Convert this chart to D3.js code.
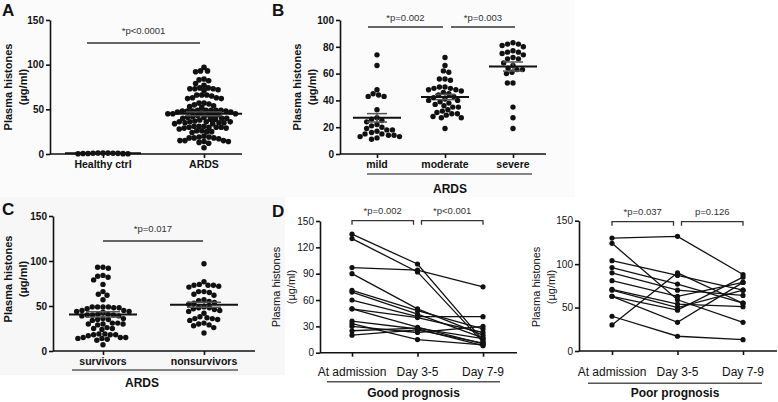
<!DOCTYPE html>
<html>
<head>
<meta charset="utf-8">
<script src="https://cdn.jsdelivr.net/npm/d3@7"></script>
<style>
  body { margin: 0; background: #fff; }
  svg { display: block; font-family: "Liberation Sans", Arial, Helvetica, sans-serif; }
</style>
</head>
<body>
<div id="chart"></div>
<script>
// ---- data (plasma histones, µg/ml) ----
const healthyCtrl = [0.4, 0.9, 1.2, 0.6, 0.3, 1.0, 0.7, 0.5, 1.1, 0.8, 0.2];

const survivors = [93, 92, 93, 83, 84, 82, 79, 74, 66, 63, 62, 57,
  49, 49, 48, 49, 48, 49, 47, 45, 44, 43, 44, 45,
  41, 40, 39, 40, 41, 40, 39, 36, 35, 36, 34, 35,
  31, 30, 30, 31, 29, 30, 25, 26, 24, 25,
  19, 18, 17, 18, 19, 18, 15, 14, 15, 14, 15, 13, 12, 7];
const nonsurvivors = [97, 77, 73, 74, 73, 72, 73, 71, 66, 65, 66, 63, 62, 57, 56,
  54, 55, 53, 52, 48, 47, 48, 49, 45, 44, 46, 42, 38, 37,
  36, 35, 36, 34, 31, 30, 29, 28, 26, 20];
// panel A: all ARDS patients
const ards = survivors.concat(nonsurvivors);

const mild = [74, 66, 48, 45, 44, 43, 43, 33, 27, 26, 25, 24, 22, 21,
  20, 19, 18, 18, 17, 16, 15, 15, 14, 14, 13, 13, 12, 11];
const moderate = [72, 66, 62, 61, 56, 56, 55, 50, 50, 49, 49, 48, 48, 47, 46, 45, 44,
  43, 42, 41, 40, 40, 39, 38, 37, 36, 35, 35, 33, 32, 31, 30, 30, 29, 28, 27, 27, 19];
const severe = [83, 82, 82, 81, 80, 77, 76, 76, 75, 74, 72, 71, 71, 68, 66,
  64, 63, 63, 61, 60, 53, 53, 35, 27, 19];

const timepoints = ["At admission", "Day 3-5", "Day 7-9"];
// one row per patient: [admission, day 3-5, day 7-9]
const goodPrognosis = [
  [135, 101, 14], [130, 92, 12], [97, 94, 75], [90, 50, 20], [71, 48, 27],
  [69, 44, 17], [60, 41, 41], [50, 40, 23], [50, 29, 10], [36, 27, 8],
  [33, 15, 9], [30, 23, 30], [25, 28, 16], [20, 26, 11]
];
const poorPrognosis = [
  [130, 132, 88], [124, 59, 33], [104, 87, 70], [96, 77, 55], [90, 70, 64],
  [81, 63, 79], [71, 54, 51], [70, 50, 70], [63, 47, 85], [63, 33, 79],
  [40, 17, 13], [30, 90, 55]
];

const ink = "#111";
const svg = d3.select("#chart").append("svg")
  .attr("width", 778).attr("height", 402);

// faint panel backgrounds from the composite figure
svg.append("rect").attr("x", 0).attr("y", 0).attr("width", 575).attr("height", 197).attr("fill", "#fbfbfb");
svg.append("rect").attr("x", 0).attr("y", 197).attr("width", 285).attr("height", 178).attr("fill", "#f7f7f7");

function letter(t, x, y) {
  svg.append("text").attr("x", x).attr("y", y)
    .attr("font-size", 17).attr("font-weight", "bold").attr("fill", ink).text(t);
}

function yLabel(x, cy, bold) {
  const t = svg.append("text")
    .attr("transform", `translate(${x},${cy}) rotate(-90)`)
    .attr("text-anchor", "middle").attr("font-size", 11)
    .attr("font-weight", bold ? "bold" : "normal").attr("fill", ink);
  t.append("tspan").attr("x", 0).attr("dy", 0).text("Plasma histones");
  t.append("tspan").attr("x", 0).attr("dy", 15).text("(µg/ml)");
}

function styleAxis(g, fs, bold) {
  g.attr("font-family", null).attr("font-size", fs).attr("font-weight", bold ? "bold" : "normal");
  g.selectAll("path, line").attr("stroke", ink).attr("stroke-width", 1.6);
  g.selectAll("text").attr("fill", ink);
}

// beeswarm: keep each dot at its value, push it sideways to the nearest free spot
function swarm(vals, y, cx, d) {
  const pts = vals.map(v => ({ v, py: y(v) })).sort((a, b) => a.py - b.py);
  const placed = [];
  for (const p of pts) {
    const near = placed.filter(q => Math.abs(q.py - p.py) < d);
    const half = q => Math.sqrt(d * d - (q.py - p.py) ** 2);
    const cands = [0];
    near.forEach(q => cands.push(q.dx - half(q), q.dx + half(q)));
    cands.sort((a, b) => Math.abs(a) - Math.abs(b));
    p.dx = cands.find(c => near.every(q => Math.abs(q.dx - c) >= half(q) - 1e-6));
    placed.push(p);
  }
  pts.forEach(p => { p.px = cx + p.dx; });
  return pts;
}

function scatterPanel(o) {
  const y = d3.scaleLinear().domain([0, o.yMax]).range([o.y0, o.y1]);
  const x = d3.scalePoint().domain(o.cats).range(o.catX);
  const g = svg.append("g");

  g.append("g").attr("transform", `translate(${o.axisX},0)`)
    .call(d3.axisLeft(y).tickValues(o.ticks).tickSize(4).tickSizeOuter(0).tickPadding(2))
    .call(a => styleAxis(a, 10, true));

  const xa = g.append("g").attr("transform", `translate(0,${o.y0})`)
    .call(d3.axisBottom(x).tickSize(4).tickSizeOuter(0).tickFormat(""))
    .call(a => styleAxis(a, 10, true));
  xa.select(".domain").attr("d", `M${o.axisX},0H${o.axisEnd}`);

  g.selectAll(".cat").data(o.cats).join("text")
    .attr("x", d => x(d)).attr("y", o.catY)
    .attr("text-anchor", "middle").attr("font-size", 10.5).attr("font-weight", "bold")
    .attr("fill", ink).text(d => d);

  o.groups.forEach((vals, i) => {
    const cx = x(o.cats[i]);
    const pts = swarm(vals, y, cx, o.gap);
    g.append("g").selectAll("circle").data(pts).join("circle")
      .attr("cx", d => d.px).attr("cy", d => d.py).attr("r", o.dot).attr("fill", ink);

    const m = d3.mean(vals);
    const se = vals.length > 1 ? d3.deviation(vals) / Math.sqrt(vals.length) : 0;
    const sem = g.append("g").attr("stroke", "#555").attr("stroke-width", 1.5);
    sem.append("line").attr("x1", cx).attr("x2", cx).attr("y1", y(m - se)).attr("y2", y(m + se));
    [m - se, m + se].forEach(v => sem.append("line")
      .attr("x1", cx - o.semW).attr("x2", cx + o.semW).attr("y1", y(v)).attr("y2", y(v)));
    g.append("line").attr("x1", cx - o.meanW).attr("x2", cx + o.meanW)
      .attr("y1", y(m)).attr("y2", y(m)).attr("stroke", ink).attr("stroke-width", 2);
  });

  // significance bars
  (o.sig || []).forEach(s => {
    g.append("line").attr("x1", s.x1).attr("x2", s.x2).attr("y1", s.y).attr("y2", s.y)
      .attr("stroke", "#333").attr("stroke-width", 1.5);
    g.append("text").attr("x", (s.x1 + s.x2) / 2).attr("y", s.ty)
      .attr("text-anchor", "middle").attr("font-size", 9.5).attr("fill", "#333").text(s.label);
  });

  if (o.group) {
    g.append("line").attr("x1", o.group.x1).attr("x2", o.group.x2)
      .attr("y1", o.group.y).attr("y2", o.group.y).attr("stroke", ink).attr("stroke-width", 1.2);
    g.append("text").attr("x", o.group.tx).attr("y", o.group.ty)
      .attr("text-anchor", "middle").attr("font-size", 12).attr("font-weight", "bold")
      .attr("fill", ink).text(o.group.label);
  }
}

function linePanel(o) {
  const y = d3.scaleLinear().domain([0, 150]).range([o.y0, o.y1]);
  const x = d3.scalePoint().domain(timepoints).range(o.catX);
  const g = svg.append("g");

  g.append("g").attr("transform", `translate(${o.axisX},0)`)
    .call(d3.axisLeft(y).tickValues(o.ticks).tickSize(4).tickSizeOuter(0).tickPadding(2))
    .call(a => styleAxis(a, 10, false));

  const xa = g.append("g").attr("transform", `translate(0,${o.y0})`)
    .call(d3.axisBottom(x).tickSize(4).tickSizeOuter(0).tickFormat(""))
    .call(a => styleAxis(a, 10, false));
  xa.select(".domain").attr("d", `M${o.axisX},0H${o.axisEnd}`);

  g.selectAll(".cat").data(timepoints).join("text")
    .attr("x", d => x(d)).attr("y", o.catY)
    .attr("text-anchor", "middle").attr("font-size", 12).attr("fill", ink).text(d => d);

  const line = d3.line().x((d, i) => x(timepoints[i])).y(d => y(d));
  g.append("g").selectAll("path").data(o.data).join("path")
    .attr("d", line).attr("fill", "none").attr("stroke", ink).attr("stroke-width", 1.3);
  g.append("g").selectAll("circle")
    .data(o.data.flatMap(r => r.map((v, i) => [i, v])))
    .join("circle")
    .attr("cx", d => x(timepoints[d[0]])).attr("cy", d => y(d[1])).attr("r", 2.6).attr("fill", ink);

  o.sig.forEach(s => {
    const x1 = x(timepoints[s.a]) + (s.a === 1 ? 4 : 0);
    const x2 = x(timepoints[s.b]) - (s.b === 1 ? 4 : 0);
    g.append("path").attr("d", `M${x1},${s.y + 4}V${s.y}H${x2}V${s.y + 4}`)
      .attr("fill", "none").attr("stroke", "#333").attr("stroke-width", 1.3);
    g.append("text").attr("x", (x1 + x2) / 2).attr("y", s.y - 7)
      .attr("text-anchor", "middle").attr("font-size", 9.5).attr("fill", "#333").text(s.label);
  });

  g.append("line").attr("x1", o.group.x1).attr("x2", o.group.x2)
    .attr("y1", o.group.y).attr("y2", o.group.y).attr("stroke", "#555").attr("stroke-width", 1.5);
  g.append("text").attr("x", (o.group.x1 + o.group.x2) / 2).attr("y", o.group.ty)
    .attr("text-anchor", "middle").attr("font-size", 12).attr("font-weight", "bold")
    .attr("fill", ink).text(o.group.label);
}

// ---- A ----
letter("A", 2, 16);
yLabel(12, 87, true);
scatterPanel({
  yMax: 150, y0: 154, y1: 20, ticks: [0, 50, 100, 150],
  axisX: 50, axisEnd: 242, cats: ["Healthy ctrl", "ARDS"], catX: [103, 204], catY: 168,
  groups: [healthyCtrl, ards], dot: 2.8, gap: 5.0, meanW: 38, semW: 18,
  sig: [{ x1: 87, x2: 200, y: 43, ty: 34, label: "*p<0.0001" }]
});

// ---- B ----
letter("B", 272, 16);
yLabel(301, 87, true);
scatterPanel({
  yMax: 100, y0: 154, y1: 20, ticks: [0, 20, 40, 60, 80, 100],
  axisX: 340, axisEnd: 546, cats: ["mild", "moderate", "severe"], catX: [377, 513], catY: 168,
  groups: [mild, moderate, severe], dot: 2.7, gap: 5.6, meanW: 24, semW: 10,
  sig: [
    { x1: 368, x2: 443, y: 27, ty: 20.5, label: "*p=0.002" },
    { x1: 451, x2: 515, y: 27, ty: 20.5, label: "*p=0.003" }
  ],
  group: { x1: 367, x2: 532, y: 174, tx: 450, ty: 193, label: "ARDS" }
});

// ---- C ----
letter("C", 2, 215);
yLabel(12, 279, true);
scatterPanel({
  yMax: 150, y0: 351, y1: 216, ticks: [0, 50, 100, 150],
  axisX: 53, axisEnd: 255, cats: ["survivors", "nonsurvivors"], catX: [103, 204], catY: 365,
  groups: [survivors, nonsurvivors], dot: 2.7, gap: 5.4, meanW: 34, semW: 17,
  sig: [{ x1: 103, x2: 203, y: 241, ty: 232, label: "*p=0.017" }],
  group: { x1: 72, x2: 238, y: 370, tx: 142, ty: 387, label: "ARDS" }
});

// ---- D ----
letter("D", 272, 217);
yLabel(280, 287, false);
linePanel({
  y0: 352.7, y1: 221, ticks: [0, 30, 60, 90, 120, 150],
  axisX: 320, axisEnd: 517, catX: [352, 483], catY: 375.5, data: goodPrognosis,
  sig: [
    { a: 0, b: 1, y: 220.7, label: "*p=0.002" },
    { a: 1, b: 2, y: 220.7, label: "*p<0.001" }
  ],
  group: { x1: 327, x2: 500, y: 381.7, ty: 397, label: "Good prognosis" }
});

yLabel(539.5, 287, false);
linePanel({
  y0: 351, y1: 220.7, ticks: [0, 50, 100, 150],
  axisX: 579, axisEnd: 777, catX: [612, 743], catY: 375.5, data: poorPrognosis,
  sig: [
    { a: 0, b: 1, y: 221.7, label: "*p=0.037" },
    { a: 1, b: 2, y: 221.7, label: "p=0.126" }
  ],
  group: { x1: 588, x2: 762, y: 383.3, ty: 397, label: "Poor prognosis" }
});
</script>
</body>
</html>
